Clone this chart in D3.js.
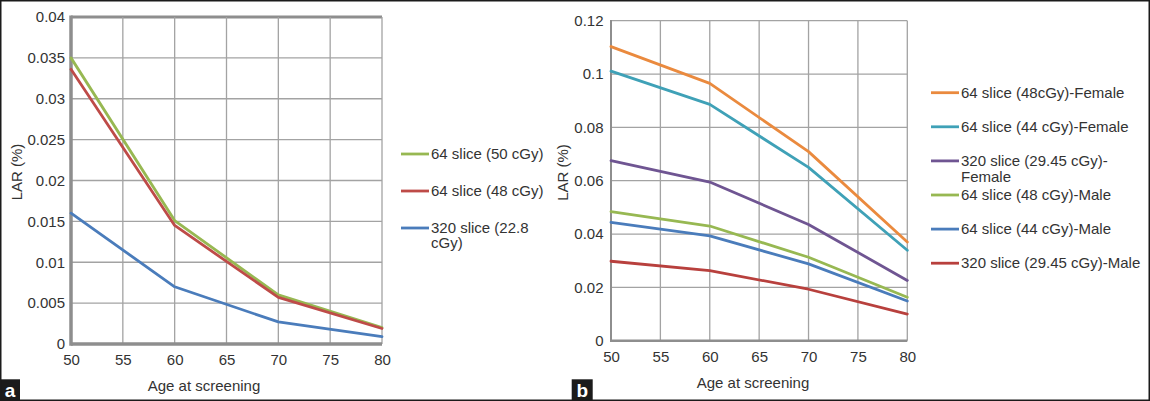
<!DOCTYPE html>
<html><head><meta charset="utf-8">
<script src="https://cdn.jsdelivr.net/npm/d3@7"></script>
<style>
html,body{margin:0;padding:0;background:#fff;}
svg{display:block;font-family:"Liberation Sans",Arial,sans-serif;}
</style></head>
<body>
<svg id="chart" width="1150" height="401"></svg>
<script>
// ---------- data ----------
const ages = [50, 60, 70, 80];
const xTicks = [50, 55, 60, 65, 70, 75, 80];

// Panel a
const yTicksA = [0, 0.005, 0.01, 0.015, 0.02, 0.025, 0.03, 0.035, 0.04];
const namesA = ["64 slice (50 cGy)", "64 slice (48 cGy)", "320 slice (22.8\ncGy)"];
const a_64_50 = [0.0350, 0.0151, 0.0060, 0.0020];
const a_64_48 = [0.0336, 0.0145, 0.0057, 0.0019];
const a_320_228 = [0.0160, 0.0070, 0.0027, 0.0009];
const colorsA = ["#97b852", "#be4b48", "#4a7cbb"];

// Panel b
const yTicksB = [0, 0.02, 0.04, 0.06, 0.08, 0.1, 0.12];
const namesB = ["64 slice (48cGy)-Female", "64 slice (44 cGy)-Female", "320 slice (29.45 cGy)-\nFemale",
                "64 slice (48 cGy)-Male", "64 slice (44 cGy)-Male", "320 slice (29.45 cGy)-Male"];
const b_64_48_F = [0.1103, 0.0965, 0.0709, 0.0370];
const b_64_44_F = [0.1011, 0.0886, 0.0650, 0.0339];
const b_320_F   = [0.0675, 0.0595, 0.0436, 0.0226];
const b_64_48_M = [0.0484, 0.0430, 0.0313, 0.0163];
const b_64_44_M = [0.0444, 0.0393, 0.0288, 0.0149];
const b_320_M   = [0.0298, 0.0263, 0.0193, 0.0100];
const colorsB = ["#ea8a3e", "#3fa1b7", "#6f5592", "#97b852", "#4a7cbb", "#b8403d"];

const xTitle = "Age at screening";
const yTitle = "LAR (%)";

// ---------- drawing ----------
const svg = d3.select("#chart");
const textColor = "#333";
const gridColor = "#a3a3a3";
const axisColor = "#8e8e8e";

function fmt(d){ return String(+d.toFixed(4)); }

function panel(cfg){
  const x = d3.scaleLinear().domain([50, 80]).range(cfg.xr);
  const y = d3.scaleLinear().domain([0, cfg.yTicks[cfg.yTicks.length-1]]).range(cfg.yr);
  const g = svg.append("g");

  // horizontal grid
  g.selectAll(".hg").data(cfg.yTicks.slice(1)).join("line")
    .attr("x1", cfg.xr[0]).attr("x2", cfg.xr[1])
    .attr("y1", d => y(d)).attr("y2", d => y(d))
    .attr("stroke", (d,i) => (i === cfg.yTicks.length-2 && cfg.thickTop) ? axisColor : gridColor)
    .attr("stroke-width", (d,i) => (i === cfg.yTicks.length-2 && cfg.thickTop) ? 3 : 1.3);
  // vertical grid
  g.selectAll(".vg").data(xTicks.slice(1)).join("line")
    .attr("x1", d => x(d)).attr("x2", d => x(d))
    .attr("y1", cfg.yr[0]).attr("y2", cfg.yr[1])
    .attr("stroke", gridColor).attr("stroke-width", 1.3);

  // axes lines
  g.append("line").attr("x1", cfg.xr[0]).attr("x2", cfg.xr[0])
    .attr("y1", cfg.yr[0] + cfg.bw/2).attr("y2", cfg.yr[1] - (cfg.thickTop?1.5:0.6))
    .attr("stroke", axisColor).attr("stroke-width", cfg.lw);
  g.append("line").attr("x1", cfg.xr[0]).attr("x2", cfg.xr[1])
    .attr("y1", cfg.yr[0]).attr("y2", cfg.yr[0])
    .attr("stroke", axisColor).attr("stroke-width", cfg.bw);

  // axis labels via d3 axes
  const ya = g.append("g").attr("transform", `translate(${cfg.xr[0]},0)`)
    .call(d3.axisLeft(y).tickValues(cfg.yTicks).tickFormat(fmt).tickSize(0).tickPadding(cfg.ypad));
  const xa = g.append("g").attr("transform", `translate(0,${cfg.yr[0]})`)
    .call(d3.axisBottom(x).tickValues(xTicks).tickFormat(d => d).tickSize(0).tickPadding(cfg.xpad));
  [ya, xa].forEach(a => {
    a.select(".domain").remove();
    a.selectAll("text").attr("fill", textColor).style("font-size", "15px")
      .style("font-family", '"Liberation Sans",Arial,sans-serif');
  });

  // lines
  const line = d3.line().x((d,i) => x(ages[i])).y(d => y(d));
  cfg.series.forEach((s, i) => {
    g.append("path").attr("d", line(s)).attr("fill", "none")
      .attr("stroke", cfg.colors[i]).attr("stroke-width", 2.8)
      .attr("stroke-linejoin", "round").attr("stroke-linecap", "round");
  });

  // titles
  g.append("text").attr("x", cfg.xtX).attr("y", cfg.xtY).attr("text-anchor", "middle")
    .attr("fill", textColor).style("font-size", "15px").text(xTitle);
  g.append("text").attr("transform", `translate(${cfg.ytX},${cfg.ytY}) rotate(-90)`)
    .attr("text-anchor", "middle").attr("dy", "0.35em")
    .attr("fill", textColor).style("font-size", "15px").text(yTitle);

  // legend
  cfg.names.forEach((name, i) => {
    const ly = cfg.legY + i * cfg.legStep;
    g.append("line").attr("x1", cfg.legX).attr("x2", cfg.legX + 28)
      .attr("y1", ly).attr("y2", ly).attr("stroke", cfg.colors[i]).attr("stroke-width", 2.8);
    const t = g.append("text").attr("x", cfg.legX + 30).attr("y", ly + 4.8)
      .attr("fill", textColor).style("font-size", "15px");
    name.split("\n").forEach((part, j) => {
      t.append("tspan").attr("x", cfg.legX + 30).attr("dy", j === 0 ? 0 : cfg.lineH).text(part);
    });
  });
}

panel({
  xr: [71, 382], yr: [344, 17], yTicks: yTicksA, thickTop: true, lw: 3.5, bw: 3.5,
  ypad: 6, xpad: 10,
  series: [a_64_50, a_64_48, a_320_228], colors: colorsA, names: namesA,
  xtX: 204, xtY: 391, ytX: 17, ytY: 172,
  legX: 401, legY: 154, legStep: 37, lineH: 15
});

panel({
  xr: [611, 907.3], yr: [340.7, 20.7], yTicks: yTicksB, thickTop: false, lw: 2, bw: 2.5,
  ypad: 7.5, xpad: 10.5,
  series: [b_64_48_F, b_64_44_F, b_320_F, b_64_48_M, b_64_44_M, b_320_M], colors: colorsB, names: namesB,
  xtX: 753, xtY: 387.5, ytX: 563, ytY: 172.5,
  legX: 931, legY: 92.7, legStep: 34.1, lineH: 16.5
});

// top border of panel b plot (thin)
// panel labels
[["a", 0, 379.3, 20], ["b", 571.7, 379.3, 21]].forEach(([lab, bx, by, bw]) => {
  svg.append("rect").attr("x", bx).attr("y", by).attr("width", bw).attr("height", 401 - by).attr("fill", "#1b1b1b");
  svg.append("text").attr("x", bx + bw/2).attr("y", 396.5).attr("text-anchor", "middle")
    .attr("fill", "#fff").style("font-size", "19px").style("font-weight", "bold").text(lab);
});

// outer frame
svg.append("rect").attr("x", 0.75).attr("y", 0.75).attr("width", 1148.5).attr("height", 399.5)
  .attr("fill", "none").attr("stroke", "#1b1b1b").attr("stroke-width", 1.5);
</script>
</body></html>
